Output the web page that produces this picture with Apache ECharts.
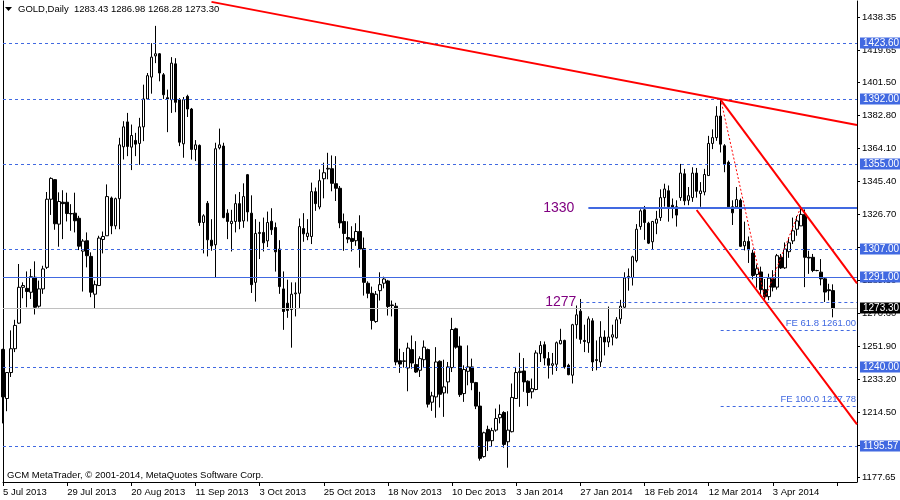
<!DOCTYPE html>
<html><head><meta charset="utf-8">
<script src="https://cdn.jsdelivr.net/npm/echarts@6/dist/echarts.min.js"></script>
<style>html,body{margin:0;padding:0;background:#fff}#c{width:900px;height:500px}</style>
</head><body><div id="c"></div>
<script>
// ---- data ----
const xTickLabels = ['5 Jul 2013','29 Jul 2013','20 Aug 2013','11 Sep 2013','3 Oct 2013','25 Oct 2013','18 Nov 2013','10 Dec 2013','3 Jan 2014','27 Jan 2014','18 Feb 2014','12 Mar 2014','3 Apr 2014'];
const yTickLabels = [1177.65,1195.80,1214.50,1233.20,1251.90,1270.60,1289.30,1308.00,1326.70,1345.40,1364.10,1382.80,1401.50,1419.65,1438.35];
const open = [
1250.1,1222.3,1237.0,1250.5,1265.0,1285.3,1284.7,1282.5,1291.0,1274.6,
1284.4,1296.6,1335.2,1346.3,1321.1,1333.5,1333.5,1327.1,1327.3,1324.4,
1305.8,1311.7,1302.8,1281.4,1286.3,1312.4,1314.5,1335.9,1320.1,1335.5,
1364.9,1379.0,1364.7,1368.5,1366.8,1376.2,1392.0,1404.4,1416.4,1417.6,
1405.7,1392.7,1391.6,1411.9,1391.6,1366.6,1393.5,1386.3,1363.4,1365.7,
1322.0,1332.9,1312.0,1309.4,1364.3,1365.3,1327.3,1321.4,1322.6,1332.7,
1322.9,1349.1,1327.3,1288.1,1315.8,1316.4,1311.6,1322.7,1319.2,1307.0,
1284.4,1276.3,1272.7,1281.6,1281.9,1318.6,1314.1,1314.1,1339.5,1330.8,
1346.8,1352.3,1352.5,1344.0,1341.4,1322.6,1313.5,1313.0,1311.7,1316.9,
1307.3,1287.6,1281.9,1265.9,1283.4,1287.6,1288.9,1275.3,1274.6,1243.7,
1243.6,1239.6,1250.0,1241.5,1238.3,1244.3,1250.0,1220.2,1223.2,1243.4,
1225.5,1231.7,1239.8,1261.8,1252.0,1225.1,1237.7,1240.2,1231.3,1218.0,
1189.4,1204.8,1198.4,1204.4,1211.4,1214.4,1197.8,1203.5,1222.3,1237.0,
1237.9,1232.1,1226.1,1227.4,1247.7,1252.8,1244.9,1241.1,1241.7,1253.3,
1255.2,1241.1,1235.5,1264.1,1271.8,1255.2,1253.9,1266.3,1244.3,1243.0,
1257.1,1254.3,1257.1,1256.7,1267.4,1274.0,1290.6,1290.8,1300.4,1319.7,
1329.2,1321.6,1311.1,1321.6,1324.8,1336.1,1340.0,1331.8,1330.9,1336.1,
1349.6,1334.6,1336.1,1350.0,1338.4,1339.3,1348.6,1366.8,1370.1,1382.3,
1365.5,1356.1,1330.9,1330.9,1334.6,1308.8,1311.3,1304.7,1292.6,1294.0,
1284.0,1280.0,1290.1,1285.4,1302.3,1296.3,1305.5,1311.6,1318.2,1320.1,
1326.6,1302.3,1302.3,1294.8,1293.9,1290.1,1283.9,1283.43];
const high = [
1250.5,1237.3,1260.9,1266.9,1298.5,1288.1,1294.3,1295.7,1300.0,1289.1,
1297.5,1339.3,1347.6,1346.5,1339.1,1340.3,1338.9,1332.4,1338.9,1325.8,
1312.6,1316.4,1305.1,1289.1,1314.5,1316.9,1343.6,1336.7,1336.1,1370.0,
1379.4,1384.1,1377.5,1372.8,1381.3,1400.1,1406.7,1423.6,1433.4,1418.0,
1406.7,1397.3,1415.7,1415.1,1392.5,1393.1,1394.4,1386.9,1368.7,1366.2,
1326.7,1334.2,1323.9,1367.2,1375.2,1367.2,1329.5,1329.2,1338.0,1339.3,
1344.2,1349.5,1337.4,1323.9,1322.4,1324.8,1328.2,1330.1,1322.0,1312.0,
1294.3,1289.6,1288.1,1288.1,1324.3,1327.3,1323.9,1344.6,1341.8,1352.1,
1355.9,1361.5,1360.0,1359.6,1342.7,1327.1,1322.7,1319.9,1321.6,1326.1,
1313.5,1288.7,1285.7,1283.2,1293.8,1291.3,1289.5,1277.8,1276.5,1250.5,
1248.6,1253.9,1258.0,1254.8,1246.2,1255.2,1250.6,1226.1,1251.4,1243.9,
1244.3,1243.0,1268.0,1262.4,1257.5,1241.1,1252.4,1244.9,1231.7,1226.1,
1203.5,1206.9,1205.7,1216.6,1218.9,1215.1,1215.1,1230.8,1240.2,1248.2,
1245.2,1232.6,1233.6,1249.6,1254.8,1254.6,1248.6,1248.1,1254.6,1261.8,
1255.6,1242.0,1264.6,1275.0,1278.7,1264.1,1268.8,1267.8,1255.2,1266.1,
1260.9,1274.4,1264.1,1268.4,1278.2,1293.8,1296.0,1303.2,1321.1,1329.5,
1331.4,1322.4,1322.9,1328.6,1340.8,1344.0,1343.0,1335.6,1334.6,1355.2,
1352.4,1342.1,1353.3,1352.9,1344.9,1352.4,1371.1,1374.8,1387.9,1391.6,
1366.4,1357.1,1334.6,1342.1,1335.6,1322.5,1314.1,1306.6,1298.2,1297.0,
1290.0,1293.0,1295.0,1304.2,1304.2,1310.7,1313.5,1324.8,1325.7,1331.0,
1329.4,1306.0,1304.2,1295.2,1301.3,1291.0,1287.3,1286.98];
const low = [
1208.2,1215.1,1234.5,1248.6,1264.6,1279.1,1274.0,1278.7,1269.9,1273.8,
1281.6,1295.7,1326.3,1317.9,1308.3,1312.6,1322.6,1317.3,1316.4,1306.4,
1282.9,1296.6,1279.7,1273.1,1286.3,1304.5,1314.5,1315.4,1318.2,1318.2,
1357.7,1359.6,1351.7,1359.6,1354.7,1368.1,1391.6,1395.0,1412.3,1402.0,
1392.0,1373.2,1384.1,1384.5,1365.3,1358.7,1381.8,1357.7,1356.8,1320.1,
1304.5,1302.8,1306.0,1291.0,1363.4,1324.4,1312.6,1305.6,1316.4,1318.2,
1319.0,1322.6,1282.1,1277.2,1301.3,1305.6,1308.1,1315.0,1294.2,1281.6,
1261.2,1268.0,1251.1,1268.8,1273.6,1311.1,1312.0,1309.8,1328.6,1329.5,
1335.7,1346.5,1339.7,1334.2,1318.8,1306.0,1310.3,1305.6,1308.8,1296.4,
1280.6,1279.1,1261.4,1265.2,1277.8,1284.7,1269.3,1268.8,1241.1,1236.8,
1239.8,1226.4,1239.2,1236.8,1234.5,1240.2,1217.2,1215.3,1211.4,1217.2,
1211.9,1225.1,1237.3,1250.5,1223.2,1220.4,1229.8,1227.0,1216.3,1187.1,
1188.8,1192.6,1195.0,1203.5,1208.2,1194.4,1183.1,1203.1,1222.3,1217.6,
1226.1,1218.0,1222.3,1227.0,1243.0,1241.1,1233.6,1235.8,1237.9,1253.0,
1239.2,1235.5,1230.8,1256.2,1253.3,1248.6,1248.2,1237.9,1238.3,1240.2,
1246.7,1251.4,1252.4,1256.2,1264.6,1273.1,1283.4,1286.3,1299.4,1317.9,
1312.2,1309.8,1307.0,1315.4,1322.9,1331.0,1322.5,1324.4,1319.7,1334.3,
1331.8,1331.8,1333.7,1336.1,1330.9,1337.4,1348.6,1363.6,1368.3,1361.7,
1350.5,1330.0,1320.6,1330.0,1308.1,1306.2,1299.1,1289.8,1285.1,1280.0,
1277.5,1278.0,1283.0,1284.0,1295.7,1295.7,1302.0,1309.8,1314.5,1320.1,
1285.4,1292.9,1293.9,1294.4,1286.4,1277.0,1277.9,1268.28];
const close = [
1223.2,1237.0,1250.5,1263.7,1285.3,1286.3,1282.9,1291.3,1274.0,1284.4,
1295.7,1335.2,1347.0,1321.3,1333.9,1332.7,1327.1,1326.9,1323.0,1308.6,
1311.5,1303.2,1282.5,1286.8,1313.2,1314.1,1336.7,1320.1,1335.5,1366.0,
1376.2,1365.1,1371.3,1366.4,1376.2,1392.0,1405.2,1415.7,1417.6,1406.7,
1394.4,1392.0,1412.3,1390.1,1367.5,1391.6,1386.3,1363.4,1366.0,1322.0,
1325.8,1312.2,1308.8,1363.8,1366.0,1324.8,1322.6,1322.7,1332.7,1322.6,
1336.7,1328.0,1286.8,1315.8,1316.4,1310.5,1322.0,1317.9,1305.4,1285.7,
1271.6,1272.2,1281.4,1282.1,1319.7,1315.6,1316.0,1339.5,1332.7,1345.7,
1350.2,1352.7,1344.2,1341.4,1321.8,1315.8,1312.6,1311.3,1316.9,1307.0,
1288.1,1281.9,1266.5,1281.4,1286.8,1290.0,1274.4,1275.0,1243.0,1241.8,
1243.4,1250.9,1242.4,1237.3,1244.9,1251.4,1219.1,1223.8,1243.0,1224.7,
1228.9,1240.2,1261.4,1251.4,1224.5,1238.7,1240.2,1231.3,1218.0,1188.4,
1202.9,1198.2,1204.1,1211.0,1213.3,1196.3,1204.4,1222.9,1237.0,1237.7,
1231.7,1225.7,1227.9,1248.1,1252.4,1245.2,1241.1,1242.0,1253.9,1255.2,
1240.2,1235.8,1264.1,1269.7,1255.8,1254.6,1267.4,1243.0,1243.9,1257.1,
1254.3,1257.1,1258.4,1266.9,1274.6,1290.6,1291.5,1302.6,1318.2,1328.6,
1322.0,1310.3,1322.6,1323.9,1336.1,1341.0,1331.0,1330.0,1326.2,1350.0,
1334.3,1337.2,1350.0,1339.7,1339.9,1349.2,1366.8,1370.1,1382.3,1366.4,
1355.2,1330.9,1327.5,1335.0,1308.5,1311.3,1306.6,1292.0,1295.8,1284.0,
1280.0,1290.5,1285.4,1303.2,1296.3,1307.0,1310.5,1317.3,1322.9,1326.6,
1302.3,1301.9,1294.8,1294.8,1290.1,1282.6,1283.4,1273.30];

const dashedLevels = [1423.60, 1392.00, 1355.00, 1307.00, 1240.00, 1195.57];
const solidLevel = 1291.00;
const currentPrice = 1273.30;
const levelLines = [ {from:146, value:1330, text:'1330', width:2, dashed:false}, {from:144, value:1277, text:'1277', width:1, dashed:true} ];
const feLevels = [ {from:179, value:1261.00, text:'FE 61.8 1261.00'}, {from:179, value:1217.78, text:'FE 100.0 1217.78'} ];
const trendLines = [ [[52,1447.0],[213,1377.3]], [[179,1391.5],[213,1287.5]], [[173,1329.1],[213,1207.6]] ];
const fePath = [[179,1392.0],[190,1279.0],[199,1330.9]];
const TOTAL_SLOTS = 214;
const STEP = 16;
const headerText = 'GOLD,Daily  1283.43 1286.98 1268.28 1273.30';
const footerText = 'GCM MetaTrader, \u00A9 2001-2014, MetaQuotes Software Corp.';

// ---- build ----
const FONT = 'Liberation Sans';
const BLUE = '#4169E1';
const cats = Array.from({length: TOTAL_SLOTS}, (_, i) => String(i));
const candles = open.map((o, i) => [o, close[i], low[i], high[i]]);
const LAST = TOTAL_SLOTS - 1;

// horizontal level definitions (rendered crisp by a custom series)
const levelDefs = [];
dashedLevels.forEach(v => levelDefs.push({ from: 0, value: v, color: BLUE, width: 1, dash: [3, 3], box: BLUE, boxText: v.toFixed(2) }));
levelDefs.push({ from: 0, value: solidLevel, color: BLUE, width: 1, dash: null, box: BLUE, boxText: solidLevel.toFixed(2) });
levelDefs.push({ from: 0, value: currentPrice, color: '#C0C0C0', width: 1, dash: null, box: '#000', boxText: currentPrice.toFixed(2) });
levelLines.forEach(l => levelDefs.push({ from: l.from, value: l.value, color: BLUE, width: l.width, dash: l.dashed ? [3, 3] : null, leftText: l.text, leftGap: l.dashed ? 4 : 14 }));
feLevels.forEach(l => levelDefs.push({ from: l.from, value: l.value, color: BLUE, width: 1, dash: [3, 3], topText: l.text }));
const levelData = levelDefs.map(d => [d.from, LAST, d.value]);

function renderLevel(params, api) {
  const d = levelDefs[params.dataIndex];
  const p1 = api.coord([api.value(0), api.value(2)]);
  const p2 = api.coord([api.value(1), api.value(2)]);
  const y = d.width % 2 === 1 ? Math.round(p1[1]) + 0.5 : Math.round(p1[1]);
  const children = [{
    type: 'line', shape: { x1: p1[0], y1: y, x2: p2[0], y2: y },
    style: { stroke: d.color, lineWidth: d.width, lineDash: d.dash || null }
  }];
  if (d.boxText) children.push({
    type: 'text', x: p2[0] + 3, y: Math.round(p1[1]),
    style: { text: d.boxText, fill: '#fff', backgroundColor: d.box, padding: [1, 3, 0, 3],
      font: '10px "Liberation Sans"', verticalAlign: 'middle', align: 'left' }
  });
  if (d.leftText) children.push({
    type: 'text', x: p1[0] - d.leftGap, y: Math.round(p1[1]),
    style: { text: d.leftText, fill: '#800080', font: '14px "Liberation Sans"', verticalAlign: 'middle', align: 'right' }
  });
  if (d.topText) children.push({
    type: 'text', x: p2[0] - 1, y: Math.round(p1[1]) - 2,
    style: { text: d.topText, fill: BLUE, font: '9.5px "Liberation Sans"', verticalAlign: 'bottom', align: 'right' }
  });
  return { type: 'group', children };
}

const ml = [];
trendLines.forEach(t => ml.push([
  { coord: t[0], lineStyle: { color: '#FF0000', width: 2, type: 'solid', opacity: 1 }, label: { show: false } },
  { coord: t[1] }
]));
for (let k = 0; k < fePath.length - 1; k++) {
  ml.push([
    { coord: fePath[k], lineStyle: { color: '#FF0000', width: 1, type: [2, 2], opacity: 1 }, label: { show: false } },
    { coord: fePath[k + 1] }
  ]);
}

const chart = echarts.init(document.getElementById('c'), null, { renderer: 'canvas' });
chart.setOption({
  animation: false,
  backgroundColor: '#fff',
  textStyle: { fontFamily: FONT },
  grid: { left: 3, right: 43, top: 1, bottom: 18, containLabel: false },
  xAxis: {
    type: 'category', data: cats, boundaryGap: false,
    axisLine: { show: true, lineStyle: { color: '#000', width: 1 } },
    axisTick: { show: true, interval: STEP - 1, length: 4, lineStyle: { color: '#000' } },
    axisLabel: { show: true, interval: STEP - 1, align: 'left', margin: 5, color: '#000', fontSize: 9.5, fontFamily: FONT,
      formatter: (v, idx) => (idx % STEP === 0 && xTickLabels[idx / STEP]) ? xTickLabels[idx / STEP] : '' },
    splitLine: { show: false }
  },
  yAxis: [{
    type: 'value', position: 'right', min: 1175.0, max: 1447.5, scale: true,
    axisLine: { show: true, lineStyle: { color: '#000', width: 1 } },
    axisTick: { show: true, length: 3, inside: false, customValues: yTickLabels, lineStyle: { color: '#000' } },
    axisLabel: { show: true, customValues: yTickLabels, margin: 5, color: '#000', fontSize: 9.5, fontFamily: FONT,
      formatter: v => Number(v).toFixed(2) },
    splitLine: { show: false }
  }, {
    type: 'value', position: 'left', min: 1175.0, max: 1447.5,
    axisLine: { show: true, onZero: false, lineStyle: { color: '#000', width: 1 } },
    axisTick: { show: false }, axisLabel: { show: false }, splitLine: { show: false }
  }],
  graphic: [
    { type: 'polygon', shape: { points: [[5, 7], [12, 7], [8.5, 11]] }, style: { fill: '#000' } },
    { type: 'text', left: 18, top: 4, style: { text: headerText, fill: '#000', font: '9.5px "Liberation Sans"' } },
    { type: 'text', left: 7, top: 470, style: { text: footerText, fill: '#000', font: '9.5px "Liberation Sans"' } }
  ],
  series: [{
    type: 'candlestick', data: candles, barWidth: 3, silent: true, z: 3,
    itemStyle: { color: '#fff', color0: '#000', borderColor: '#000', borderColor0: '#000', borderWidth: 1 }
  }, {
    type: 'custom', data: levelData, renderItem: renderLevel, silent: true, z: 4, clip: false,
    encode: { x: 0, y: 2 }
  }, {
    type: 'line', data: [], silent: true, z: 5,
    markLine: { silent: true, symbol: ['none', 'none'], precision: 2, animation: false, data: ml }
  }]
});
</script></body></html>
